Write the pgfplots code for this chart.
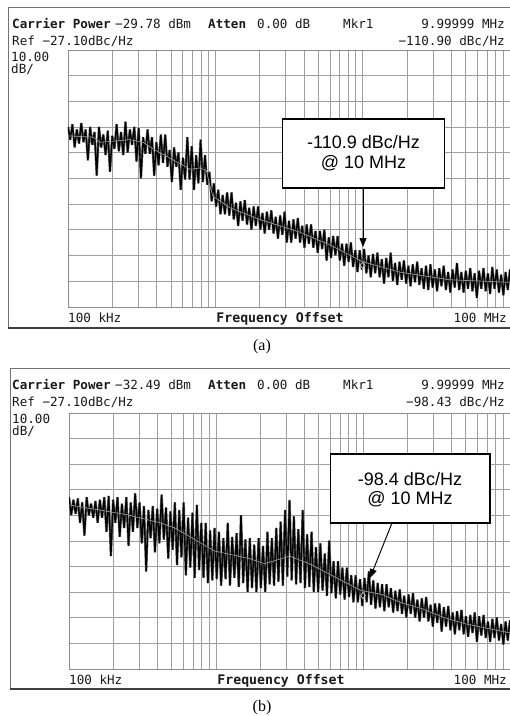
\documentclass[border=0pt]{standalone}
\usepackage{pgfplots}
\pgfplotsset{compat=1.18}
\usepackage{fontspec}
\setmainfont{Liberation Serif}
\newfontfamily\mono{DejaVu Sans Mono}
\newfontfamily\arial{Liberation Sans}
\usetikzlibrary{arrows.meta}

\pgfplotsset{spec/.style={
  scale only axis, xmin=5, xmax=8, ymin=-127.1, ymax=-27.1,
  xtick={5,5.30103,5.47712,5.60206,5.69897,5.77815,5.84510,5.90309,5.95424,
         6,6.30103,6.47712,6.60206,6.69897,6.77815,6.84510,6.90309,6.95424,
         7,7.30103,7.47712,7.60206,7.69897,7.77815,7.84510,7.90309,7.95424,8},
  ytick={-117.1,-107.1,-97.1,-87.1,-77.1,-67.1,-57.1,-47.1,-37.1},
  xticklabels={}, yticklabels={}, major tick length=0pt,
  grid=major, major grid style={black!38,line width=0.9pt},
  axis line style={black!45,line width=0.9pt},
}}
\tikzset{hd/.style={anchor=base west,inner sep=0pt,text=black!90,font=\mono\fontsize{12.6pt}{14pt}\selectfont},
         hde/.style={hd,anchor=base east}}

\begin{document}
\begin{tikzpicture}
\clip (0pt,0pt) rectangle (510pt,-716pt);
\useasboundingbox (0pt,0pt) rectangle (510pt,-716pt);

% ---------- panel (a) ----------
\draw[black!55,line width=1pt] (8pt,-328pt) -- (8pt,-7pt) -- (520pt,-7pt);
\draw[black!75,line width=2.2pt] (8pt,-328pt) -- (520pt,-328pt);
\node[hd] at (12pt,-28pt) {\bfseries Carrier Power};
\node[hd] at (115pt,-28pt) {−29.78 dBm};
\node[hd] at (208pt,-28pt) {\bfseries Atten};
\node[hd] at (257pt,-28pt) {0.00 dB};
\node[hd] at (343pt,-28pt) {Mkr1};
\node[hde] at (505pt,-28pt) {9.99999 MHz};
\node[hd] at (12pt,-45pt) {Ref −27.10dBc/Hz};
\node[hde] at (505pt,-45pt) {−110.90 dBc/Hz};
\node[hd] at (11pt,-61pt) {10.00};
\node[hd] at (11pt,-73pt) {dB/};
\node[hd] at (68pt,-322pt) {100 kHz};
\node[hd,anchor=base,font=\mono\bfseries\fontsize{13.2pt}{14pt}\selectfont] at (280pt,-322pt) {Frequency Offset};
\node[hde] at (507pt,-322pt) {100 MHz};
\node[anchor=base,inner sep=0pt,font=\fontsize{16pt}{18pt}\selectfont] at (262pt,-350pt) {(a)};

\pgfplotstableread{
x y
5.000 -57
5.015 -62
5.030 -56
5.045 -65
5.060 -58
5.075 -63.5
5.090 -55.5
5.105 -63
5.120 -58
5.135 -70
5.150 -57
5.165 -64
5.180 -59
5.195 -76
5.210 -57
5.225 -65
5.240 -60
5.255 -68
5.270 -58.5
5.285 -74.5
5.300 -60.5
5.315 -65.5
5.330 -56
5.345 -66.5
5.360 -59
5.375 -68
5.390 -55
5.405 -67
5.420 -58
5.435 -64
5.450 -57
5.465 -70.5
5.480 -57.5
5.495 -77
5.510 -61
5.525 -67.5
5.540 -58
5.555 -67.5
5.570 -61
5.585 -76
5.600 -63
5.615 -72
5.630 -60
5.645 -71
5.660 -60
5.675 -72.5
5.690 -66
5.705 -78.5
5.720 -65
5.735 -72.5
5.750 -67
5.765 -81.5
5.780 -69
5.795 -77.5
5.810 -61
5.825 -77.5
5.840 -64.5
5.855 -81.5
5.870 -68
5.885 -79
5.900 -62
5.915 -78.5
5.930 -68
5.945 -79.5
5.960 -74.5
5.975 -86
5.990 -79
6.005 -88
6.020 -81.5
6.035 -91
6.050 -83.5
6.065 -91
6.080 -82.5
6.095 -91.5
6.110 -82.5
6.125 -93
6.140 -86.5
6.155 -95.5
6.170 -86
6.185 -93.5
6.200 -85.5
6.215 -95
6.230 -88.5
6.245 -97
6.260 -88
6.275 -95.5
6.290 -88
6.305 -97
6.320 -90.5
6.335 -98.5
6.350 -90
6.365 -97
6.380 -89.5
6.395 -98.5
6.410 -92
6.425 -100.5
6.440 -91.5
6.455 -99
6.470 -90
6.485 -102
6.500 -93.5
6.515 -102
6.530 -93
6.545 -100.5
6.560 -92.5
6.575 -102
6.590 -95.5
6.605 -104
6.620 -95
6.635 -102.5
6.650 -95
6.665 -104
6.680 -97.5
6.695 -106
6.710 -97.5
6.725 -104.5
6.740 -97
6.755 -109
6.770 -100
6.785 -108
6.800 -99.5
6.815 -107
6.830 -99.5
6.845 -109
6.860 -102.5
6.875 -111
6.890 -102.5
6.905 -109.5
6.920 -102
6.935 -111.5
6.950 -105
6.965 -113.5
6.980 -105
6.995 -112.5
7.010 -104.5
7.025 -114
7.040 -107
7.055 -115.5
7.070 -106.5
7.085 -114
7.100 -106
7.115 -115.5
7.130 -108.5
7.145 -118
7.160 -108
7.175 -115.5
7.190 -106
7.205 -117
7.220 -110
7.235 -118.5
7.250 -109.5
7.265 -116.5
7.280 -109
7.295 -118
7.310 -111
7.325 -119
7.340 -110.5
7.355 -117.5
7.370 -109.5
7.385 -118.5
7.400 -112
7.415 -120
7.430 -111
7.445 -120.5
7.460 -110.5
7.475 -119.5
7.490 -112.5
7.505 -121
7.520 -112
7.535 -119
7.550 -111
7.565 -120.5
7.580 -113.5
7.595 -121.5
7.610 -112.5
7.625 -119.5
7.640 -110
7.655 -120.5
7.670 -113.5
7.685 -121.5
7.700 -113
7.715 -120
7.730 -112
7.745 -121
7.760 -114
7.775 -123.5
7.790 -113
7.805 -120
7.820 -112
7.835 -121
7.850 -114
7.865 -122
7.880 -111.5
7.895 -120
7.910 -112.5
7.925 -121.5
7.940 -114.5
7.955 -122.5
7.970 -113.5
7.985 -120.5
8.000 -112.5
}\traceA

\pgfplotstableread{
x y
5.000 -60
5.015 -67
5.030 -61
5.045 -66.5
5.060 -60.5
5.075 -70
5.090 -62
5.105 -75
5.120 -60
5.135 -67
5.150 -62.5
5.165 -68
5.180 -61.5
5.195 -70
5.210 -61
5.225 -68
5.240 -60
5.255 -73.5
5.270 -59.5
5.285 -83
5.300 -61
5.315 -70
5.330 -60
5.345 -75.5
5.360 -62.5
5.375 -72
5.390 -60
5.405 -79
5.420 -62
5.435 -73.5
5.450 -58.5
5.465 -72
5.480 -62
5.495 -78
5.510 -63.5
5.525 -89
5.540 -65
5.555 -76
5.570 -63.5
5.585 -81.5
5.600 -64.5
5.615 -78
5.630 -59
5.645 -76.5
5.660 -64
5.675 -84
5.690 -65.5
5.705 -80.5
5.720 -62
5.735 -86.5
5.750 -65
5.765 -83.5
5.780 -62
5.795 -90.5
5.810 -68
5.825 -87.5
5.840 -66
5.855 -91.5
5.870 -63
5.885 -88.5
5.900 -70
5.915 -91.5
5.930 -70
5.945 -93.5
5.960 -73
5.975 -92.5
5.990 -72
6.005 -92
6.020 -73.5
6.035 -94.5
6.050 -76
6.065 -92
6.080 -70
6.095 -94.5
6.110 -75.5
6.125 -91.5
6.140 -74
6.155 -95
6.170 -67
6.185 -93.5
6.200 -76.5
6.215 -97
6.230 -76
6.245 -95.5
6.260 -78.5
6.275 -97
6.290 -76
6.305 -95.5
6.320 -79
6.335 -97
6.350 -73.5
6.365 -94
6.380 -76
6.395 -94.5
6.410 -72
6.425 -93
6.440 -69.5
6.455 -94.5
6.470 -65
6.485 -91
6.500 -61
6.515 -92.5
6.530 -67.5
6.545 -94
6.560 -72.5
6.575 -93.5
6.590 -65
6.605 -95.5
6.620 -74.5
6.635 -95
6.650 -73.5
6.665 -97
6.680 -79.5
6.695 -97
6.710 -78
6.725 -96.5
6.740 -82
6.755 -98.5
6.770 -77
6.785 -97.5
6.800 -85
6.815 -99.5
6.830 -85
6.845 -98
6.860 -87.5
6.875 -100
6.890 -87.5
6.905 -99
6.920 -90.5
6.935 -101
6.950 -90.5
6.965 -101
6.980 -92
6.995 -102.5
7.010 -91.5
7.025 -101
7.040 -89
7.055 -102
7.070 -92.5
7.085 -103.5
7.100 -93.5
7.115 -103
7.130 -94
7.145 -104.5
7.160 -94
7.175 -103
7.190 -95.5
7.205 -105
7.220 -96.5
7.235 -104.5
7.250 -96
7.265 -105.5
7.280 -98.5
7.295 -107
7.310 -98
7.325 -105.5
7.340 -97.5
7.355 -107
7.370 -100
7.385 -108.5
7.400 -99.5
7.415 -107
7.430 -99
7.445 -108.5
7.460 -102
7.475 -110.5
7.490 -101.5
7.505 -109
7.520 -101.5
7.535 -112.5
7.550 -103
7.565 -110.5
7.580 -102.5
7.595 -112
7.610 -105
7.625 -113.5
7.640 -104.5
7.655 -112
7.670 -104
7.685 -113.5
7.700 -106.5
7.715 -114.5
7.730 -106
7.745 -113
7.760 -105
7.775 -116.5
7.790 -106.5
7.805 -114
7.820 -106
7.835 -115
7.850 -108.5
7.865 -116.5
7.880 -107.5
7.895 -115
7.910 -107
7.925 -116
7.940 -109.5
7.955 -117.5
7.970 -108.5
7.985 -116
8.000 -108
}\traceB

\begin{axis}[spec, at={(68pt,-307pt)}, anchor=south west, width=442pt, height=257pt]
\addplot[black!55, line width=2.4pt, line join=bevel] table {\traceA};
\addplot[black, line width=1.4pt, line join=bevel] table {\traceA};
\addplot[black!40, line width=0.7pt] coordinates {(5.00,-60.5)(5.17,-61)(5.22,-63)(5.42,-62)(5.51,-63)(5.59,-66)(5.67,-68.5)(5.83,-73.5)(5.895,-73)(5.94,-74)(5.963,-80)(5.984,-84)(6.10,-88.5)(6.30,-93)(6.574,-98)(6.78,-103)(7.00,-109.5)(7.25,-113.5)(7.59,-116.5)(8.00,-117.5)};
\addplot[only marks, mark=diamond, mark size=3.2pt, mark options={draw=black!25,line width=0.8pt}] coordinates {(7.0,-110.9)} node[above=3pt, font=\mono\fontsize{7pt}{8pt}\selectfont, text=black!60, inner sep=0pt] {1};
\end{axis}
\draw[black, line width=1.1pt, fill=white] (282.7pt,-119pt) rectangle (444.3pt,-188pt);
\node[font=\arial\fontsize{18pt}{20pt}\selectfont, inner sep=0pt] at (363.5pt,-142pt) {-110.9 dBc/Hz};
\node[font=\arial\fontsize{18pt}{20pt}\selectfont, inner sep=0pt] at (363.5pt,-163.5pt) {@ 10 MHz};
\draw[black, line width=1pt, -{Triangle[length=9pt,width=7pt]}] (363pt,-188pt) -- (363pt,-247pt);

% ---------- panel (b) ----------
\draw[black!55,line width=1pt] (10pt,-689pt) -- (10pt,-368pt) -- (520pt,-368pt);
\draw[black!75,line width=2.2pt] (10pt,-689pt) -- (520pt,-689pt);
\node[hd] at (12pt,-389pt) {\bfseries Carrier Power};
\node[hd] at (115pt,-389pt) {−32.49 dBm};
\node[hd] at (208pt,-389pt) {\bfseries Atten};
\node[hd] at (257pt,-389pt) {0.00 dB};
\node[hd] at (343pt,-389pt) {Mkr1};
\node[hde] at (505pt,-389pt) {9.99999 MHz};
\node[hd] at (12pt,-406pt) {Ref −27.10dBc/Hz};
\node[hde] at (505pt,-406pt) {−98.43 dBc/Hz};
\node[hd] at (12pt,-423pt) {10.00};
\node[hd] at (12pt,-435pt) {dB/};
\node[hd] at (69pt,-684pt) {100 kHz};
\node[hd,anchor=base,font=\mono\bfseries\fontsize{13.2pt}{14pt}\selectfont] at (281pt,-684pt) {Frequency Offset};
\node[hde] at (507pt,-684pt) {100 MHz};
\node[anchor=base,inner sep=0pt,font=\fontsize{16pt}{18pt}\selectfont] at (262pt,-711pt) {(b)};

\begin{axis}[spec, at={(69pt,-669pt)}, anchor=south west, width=441pt, height=256pt]
\addplot[black!55, line width=2.4pt, line join=bevel] table {\traceB};
\addplot[black, line width=1.4pt, line join=bevel] table {\traceB};
\addplot[black!40, line width=0.7pt] coordinates {(5.00,-63)(5.21,-65)(5.41,-67)(5.62,-70)(5.72,-72)(5.99,-81)(6.23,-84)(6.33,-86)(6.50,-83)(6.635,-86)(6.77,-90)(6.99,-96.5)(7.13,-98)(7.25,-101)(7.40,-103.5)(7.55,-107)(7.70,-109.5)(8.00,-113)};
\addplot[only marks, mark=diamond, mark size=3.2pt, mark options={draw=black!25,line width=0.8pt}] coordinates {(7.0,-98.4)} node[above=3pt, font=\mono\fontsize{7pt}{8pt}\selectfont, text=black!60, inner sep=0pt] {1};
\end{axis}
\draw[black, line width=1.1pt, fill=white] (330.7pt,-454pt) rectangle (490pt,-523pt);
\node[font=\arial\fontsize{18pt}{20pt}\selectfont, inner sep=0pt] at (410pt,-479pt) {-98.4 dBc/Hz};
\node[font=\arial\fontsize{18pt}{20pt}\selectfont, inner sep=0pt] at (410pt,-499.5pt) {@ 10 MHz};
\draw[black, line width=1pt, -{Triangle[length=9pt,width=7pt]}] (392pt,-523pt) -- (370pt,-578pt);
\end{tikzpicture}
\end{document}
